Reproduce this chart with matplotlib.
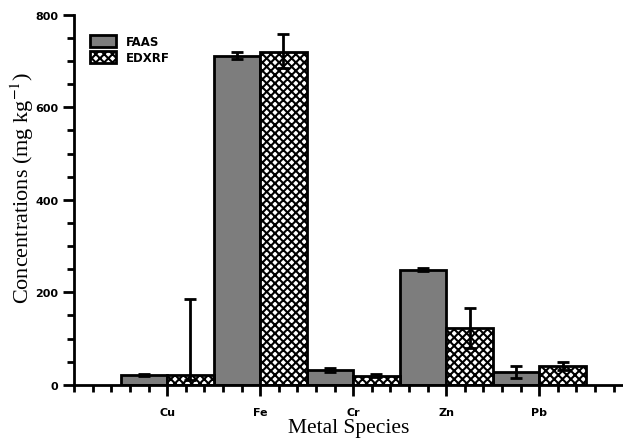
import matplotlib
matplotlib.use("Agg")
import matplotlib.pyplot as plt
import numpy as np
from matplotlib.ticker import MultipleLocator

metals = ["Cu", "Fe", "Cr", "Zn", "Pb"]
faas = [21, 712, 32, 249, 28]
faas_err = [2, 8, 5, 3, 13]
edxrf = [21, 720, 20, 123, 41]
edxrf_err_low = [10, 35, 4, 44, 8]
edxrf_err_high = [165, 38, 4, 44, 9]

plt.rcParams["mathtext.fontset"] = "stix"
plt.rcParams["hatch.linewidth"] = 1.5

fig = plt.figure(figsize=(6.23, 4.39), dpi=100)
ax = fig.add_axes([0.119, 0.121, 0.881, 0.843])

x = np.arange(1, len(metals) + 1)
w = 0.5
ax.bar(x - w / 2, faas, w, color="#7d7d7d", edgecolor="black", linewidth=2,
       label="FAAS", zorder=2)
ax.bar(x + w / 2, edxrf, w, color="white", edgecolor="black", linewidth=2,
       hatch="xxxx", label="EDXRF", zorder=2)
ax.errorbar(x - w / 2, faas, yerr=faas_err, fmt="none", ecolor="black",
            elinewidth=2, capsize=4, capthick=2, zorder=3)
ax.errorbar(x + w / 2, edxrf, yerr=[edxrf_err_low, edxrf_err_high], fmt="none",
            ecolor="black", elinewidth=2, capsize=4, capthick=2, zorder=3)

ax.set_xlim(0, 5.9)
ax.set_ylim(0, 800)
ax.set_xticks(x)
ax.set_xticklabels(metals)
ax.xaxis.set_minor_locator(MultipleLocator(0.2))
ax.yaxis.set_major_locator(MultipleLocator(200))
ax.yaxis.set_minor_locator(MultipleLocator(50))

for s in ["top", "right"]:
    ax.spines[s].set_visible(False)
for s in ["left", "bottom"]:
    ax.spines[s].set_linewidth(2)

ax.tick_params(axis="both", which="major", length=8, width=2, labelsize=8)
ax.tick_params(axis="both", which="minor", length=5, width=2)
ax.tick_params(axis="x", which="major", pad=8)
for lab in ax.get_xticklabels() + ax.get_yticklabels():
    lab.set_fontweight("bold")

ax.set_xlabel("Metal Species", family="Liberation Serif", fontsize=15.5, labelpad=1)
ax.set_ylabel("Concentrations (mg kg$^{-1}$)", family="Liberation Serif",
              fontsize=16)
ax.yaxis.set_label_coords(-0.07, 0.535)

leg = ax.legend(loc="upper left", bbox_to_anchor=(0.01, 0.975), frameon=False,
                prop={"weight": "bold", "size": 8.5},
                handlelength=2.2, handleheight=1.2, labelspacing=0.25,
                handletextpad=0.8)

fig.savefig("out.png", dpi=100)
